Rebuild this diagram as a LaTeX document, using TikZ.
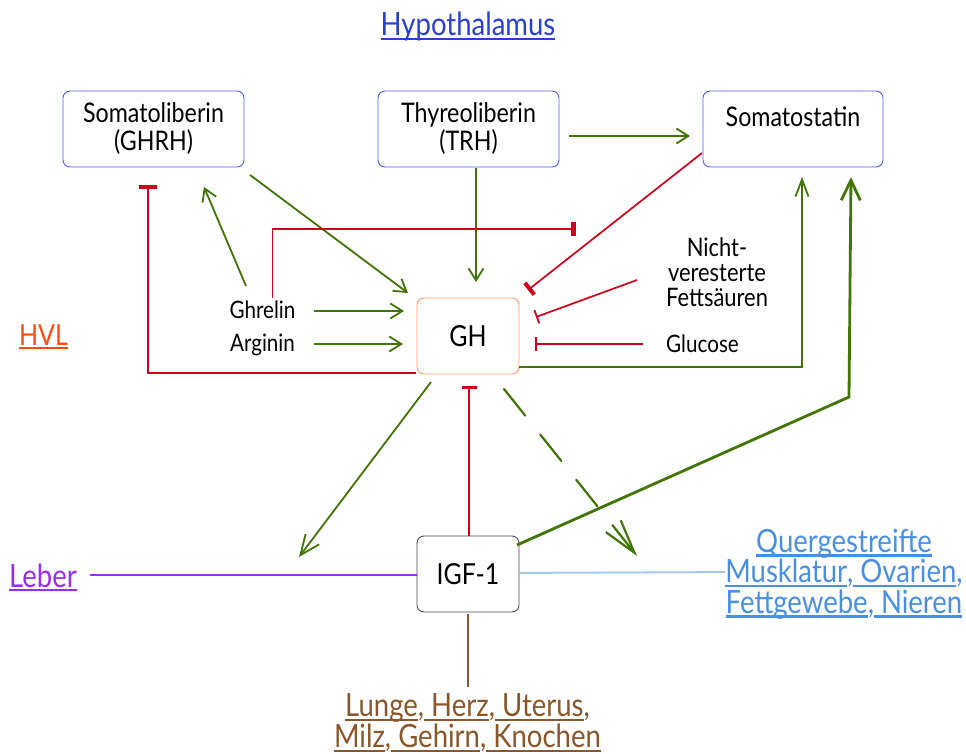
\documentclass[tikz,border=0pt]{standalone}
\usepackage{fontspec}
\setmainfont{Lato}[FakeStretch=0.86]
\usetikzlibrary{arrows.meta,calc}
\definecolor{cgreen}{HTML}{417505}
\definecolor{cred}{HTML}{D0021B}
\definecolor{cbox}{HTML}{4F5FE3}
\definecolor{chyp}{HTML}{2B3FD4}
\definecolor{chvl}{HTML}{FF4A0D}
\definecolor{cgh}{HTML}{FF9A70}
\definecolor{cleber}{HTML}{9B2BF5}
\definecolor{cquer}{HTML}{4A90E2}
\definecolor{cqline}{HTML}{A3C6EE}
\definecolor{cbrown}{HTML}{8B572A}
\newcommand{\tul}[1]{\setbox0=\hbox{#1}\rlap{\rule[-4.4pt]{\wd0}{2.6pt}}\box0}
\newcommand{\fntS}{\fontsize{24}{25}\selectfont}
\newcommand{\fntM}{\fontsize{27}{28}\selectfont}
\newcommand{\fntL}{\fontsize{29}{31}\selectfont}
\newcommand{\fntX}{\fontsize{32}{31}\selectfont}
\tikzset{
  hbox/.style={draw=cbox, line width=0.9pt, rounded corners=7pt, minimum width=181pt, minimum height=76pt, inner sep=0pt, align=center, font=\fntM},
  lbl/.style={inner sep=0pt, anchor=base, font=\fntS},
  mlbl/.style={inner sep=0pt, anchor=center, align=center},
  gline/.style={draw=cgreen, line width=1.8pt},
  gar/.style={gline, -{Straight Barb[length=12pt,width=15pt,line width=1.8pt]}},
  rline/.style={draw=cred, line width=1.7pt},
  rthick/.style={rline, -{Bar[width=15pt,line width=4pt]}},
  rthin/.style={rline, -{Bar[width=14pt,line width=1.8pt]}},
}
\begin{document}
\begin{tikzpicture}[x=1pt,y=-1pt]
\useasboundingbox[fill=white] (0,0) rectangle (966,754);
% nodes
\node[lbl, font=\fntX, text=chyp] (hyp) at (468,36) {\tul{Hypothalamus}};
\node[hbox] (ghrh) at (153.5,129) {Somatoliberin\\(GHRH)};
\node[hbox] (trh) at (468.5,129) {Thyreoliberin\\(TRH)};
\node[hbox, minimum width=180pt, text height=20pt, text depth=24pt] (sst) at (793,129) {Somatostatin};
\node[draw=cgh, line width=0.9pt, rounded corners=7pt, minimum width=102pt, minimum height=76pt, inner sep=0pt, font=\fntL] (gh) at (468,336) {GH};
\node[draw=black!70, line width=0.9pt, rounded corners=7pt, minimum width=102pt, minimum height=76pt, inner sep=0pt, font=\fntL] (igf) at (468,574) {IGF-1};
\node[lbl] (ghrelin) at (262.5,318) {Ghrelin};
\node[lbl] (arginin) at (262.5,351) {Arginin};
\node[lbl, font=\fntL, text=chvl] (hvl) at (43.5,345) {\tul{HVL}};
\node[mlbl, font={\fontsize{25.5}{25}\selectfont}] (nefa) at (717,272) {Nicht-\\veresterte\\Fettsäuren};
\node[lbl] (glucose) at (702.5,352) {Glucose};
\node[lbl, font=\fntX, text=cleber] (leber) at (43,587) {\tul{Leber}};
\node[mlbl, font={\fontsize{32}{30.5}\selectfont}, text=cquer] (quer) at (844,574) {\tul{Quergestreifte}\\\tul{Musklatur},\tul{\ Ovarien},\\\tul{Fettgewebe},\tul{\ Nieren}};
\node[mlbl, font=\fntX, text=cbrown] (lunge) at (467.5,723) {\tul{Lunge},\tul{\ Herz},\tul{\ Uterus},\\\tul{Milz},\tul{\ Gehirn},\tul{\ Knochen}};
% free ends
\coordinate (leberend) at ($(igf)+(-169,-17)$);
\coordinate (querend) at ($(igf)+(169,-18)$);
\coordinate (sstinh) at ($(sst)+(-217,100)$);
% green activations
\draw[gar] ($(trh)+(100.5,7)$) -- ($(sst)+(-103,7)$);
\draw[gar] ($(trh)+(7.5,39)$) -- ($(gh)+(8,-54)$);
\draw[gar] ($(ghrh)+(96.5,46)$) -- ($(gh)+(-60,-43)$);
\draw[gar] ($(ghrelin.base)+(-16.5,-32)$) -- ($(ghrh)+(50.5,58)$);
\draw[gar] ($(ghrelin.base)+(51.5,-7)$) -- ($(gh)+(-64,-25)$);
\draw[gar] ($(arginin.base)+(51.5,-7)$) -- ($(gh)+(-65,8)$);
\draw[gline, -{Straight Barb[length=17pt,width=13pt,line width=1.8pt]}] ($(gh)+(51,31)$) -| ($(sst)+(9,48)$);
\draw[gline, line width=2.8pt, -{Straight Barb[length=20pt,width=19pt,line width=2.8pt]}] ($(igf)+(49,-29)$) -- ($(sst)+(56,268)$) -- ($(sst)+(58,48)$);
\draw[gline, -{Straight Barb[length=20pt,width=17pt,line width=1.8pt]}] ($(gh)+(-37,46)$) -- (leberend);
\draw[gline, line width=2.2pt, line cap=round, dash pattern=on 34pt off 24pt, -{Straight Barb[length=34pt,width=19pt,line width=2.2pt]}] ($(gh)+(36,53)$) -- (querend);
% red inhibitions
\draw[rline, -{Bar[width=14pt,line width=5pt]}] ($(ghrelin.base)+(10,-20)$) |- (sstinh);
\draw[rline, -{Bar[width=18pt,line width=4pt]}] ($(gh)+(-52,37)$) -| ($(ghrh)+(-5.5,56)$);
\draw[rthick] ($(sst)+(-91,24)$) -- ($(gh)+(60,-46)$);
\draw[rthin] ($(nefa)+(-80,8)$) -- ($(gh)+(68,-19)$);
\draw[rthin] ($(glucose.base)+(-59.5,-8)$) -- ($(gh)+(67,8)$);
\draw[rline, -{Bar[width=15pt,line width=3pt]}] ($(igf)+(1,-38)$) -- ($(gh)+(1,50)$);
% plain lines
\draw[draw=cleber, line width=1.8pt] ($(leber.base)+(47,-12)$) -- ($(igf.west)+(0,1)$);
\draw[draw=cqline, line width=1.8pt] ($(igf.east)+(0,-1)$) -- ($(quer)+(-119,-2)$);
\draw[draw=cbrown, line width=1.4pt] ($(igf.south)+(0,2)$) -- ($(lunge)+(0.5,-36)$);
\end{tikzpicture}
\end{document}
